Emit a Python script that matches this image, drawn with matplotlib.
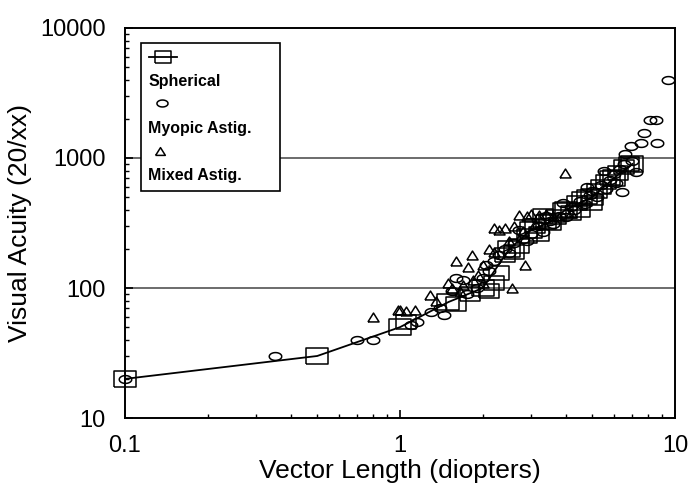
import matplotlib
matplotlib.use("Agg")
from matplotlib import pyplot as plt
from matplotlib.patches import Rectangle
from matplotlib.ticker import LogLocator, NullFormatter, FixedLocator, FixedFormatter
import numpy as np

plt.rcParams['font.family'] = ['Liberation Sans', 'DejaVu Sans']

# -----------------------------------------------------------------------------------------
# Data

# mean curve through the spherical points
line_x = [0.1, 0.5, 1.0, 1.5, 2.0, 2.5, 3.0, 3.5, 4.0, 5.0, 6.0, 7.0]
line_y = [20, 30, 50, 78, 100, 200, 280, 320, 400, 500, 700, 900]

sph_x = [1.05, 1.6, 1.8, 2.1, 2.2, 2.3, 2.6, 2.7, 2.9, 3.1, 3.2, 3.4, 3.7, 3.9,
         4.2, 4.4, 4.5, 4.6, 4.8, 5.0, 5.2, 5.4, 5.6, 5.8, 6.2, 6.5, 6.8, 3.3, 2.4]
sph_y = [55, 75, 90, 95, 110, 130, 190, 210, 250, 300, 260, 320, 350, 400,
         380, 450, 400, 480, 500, 450, 560, 600, 650, 700, 760, 850, 900, 360, 180]

myo_x = [0.1, 0.35, 0.7, 0.8, 1.1, 1.15, 1.3, 1.4, 1.45, 1.55, 1.6, 1.7, 1.75, 1.9,
         2.0, 2.05, 2.1, 2.2, 2.3, 2.4, 2.5, 2.6, 2.7, 2.8, 2.9, 3.0, 3.2, 3.3, 3.4,
         3.5, 3.6, 3.8, 3.9, 4.0, 4.2, 4.3, 4.5, 4.7, 4.8, 4.9, 5.0, 5.2, 5.4, 5.5,
         5.6, 5.8, 6.0, 6.1, 6.3, 6.4, 6.5, 6.6, 6.9, 7.0, 7.2, 7.5, 7.7, 8.1, 8.5,
         8.6, 9.4]
myo_y = [20, 30, 40, 40, 52, 55, 65, 70, 62, 95, 120, 115, 90, 100,
         120, 150, 135, 160, 180, 200, 185, 220, 280, 240, 230, 260, 300, 270, 360,
         330, 310, 360, 450, 350, 420, 400, 470, 440, 600, 520, 560, 500, 620, 800,
         580, 680, 750, 640, 820, 550, 900, 1070, 1230, 950, 780, 1300, 1550, 1960, 1960,
         1300, 3980]

mix_x = [0.8, 0.98, 1.0, 1.05, 1.13, 1.29, 1.35, 1.5, 1.55, 1.6, 1.65, 1.7, 1.77,
         1.83, 1.85, 1.92, 2.0, 2.0, 2.1, 2.2, 2.2, 2.3, 2.4, 2.5, 2.55, 2.6, 2.7,
         2.8, 2.85, 2.9, 3.0, 3.1, 3.2, 3.4, 3.6, 3.8, 3.98, 4.2]
mix_y = [60, 68, 68, 66, 68, 88, 80, 109, 100, 161, 95, 105, 145,
         180, 115, 125, 110, 150, 200, 290, 190, 280, 290, 230, 100, 300, 365,
         275, 150, 360, 370, 310, 365, 370, 360, 350, 770, 380]

# -----------------------------------------------------------------------------------------
# Markers (the original is stretched horizontally)

rect = [(-1.45, -1), (1.45, -1), (1.45, 1), (-1.45, 1), (-1.45, -1)]
_t = np.linspace(0, 2 * np.pi, 40)
ellipse = list(zip(1.6 * np.cos(_t), np.sin(_t)))
tri = [(-1.25, -1), (1.25, -1), (0, 1), (-1.25, -1)]

mk = dict(linestyle='none', markerfacecolor='none', markeredgecolor='black',
          markeredgewidth=1.1)

fig = plt.figure(figsize=(6.89, 4.98), dpi=100)
ax = fig.add_axes([0.1814, 0.1606, 0.7983, 0.7832])

ax.plot(line_x, line_y, color='black', linewidth=1.3, marker=rect, markersize=16,
        markerfacecolor='none', markeredgecolor='black', markeredgewidth=1.1,
        clip_on=False, zorder=3)
ax.plot(sph_x, sph_y, marker=rect, markersize=15, **mk)
ax.plot(myo_x, myo_y, marker=ellipse, markersize=9, clip_on=False, **mk)
ax.plot(mix_x, mix_y, marker=tri, markersize=8, **mk)

ax.set_xscale('log')
ax.set_yscale('log')
ax.set_xlim(0.1, 10)
ax.set_ylim(10, 10000)

ax.xaxis.set_major_locator(FixedLocator([0.1, 1, 10]))
ax.xaxis.set_major_formatter(FixedFormatter(['0.1', '1', '10']))
ax.yaxis.set_major_locator(FixedLocator([10, 100, 1000, 10000]))
ax.yaxis.set_major_formatter(FixedFormatter(['10', '100', '1000', '10000']))
ax.xaxis.set_minor_locator(LogLocator(base=10, subs=range(2, 10)))
ax.yaxis.set_minor_locator(LogLocator(base=10, subs=range(2, 10)))
ax.xaxis.set_minor_formatter(NullFormatter())
ax.yaxis.set_minor_formatter(NullFormatter())

ax.tick_params(which='major', direction='in', length=6, width=1.2, labelsize=17,
               top=False, right=False)
ax.tick_params(which='minor', direction='in', length=3, width=1.0,
               top=False, right=False)
ax.tick_params(axis='y', which='major', pad=14)
ax.tick_params(axis='x', which='major', pad=12)

for y in [100, 1000]:
    ax.axhline(y, color='#444444', linewidth=1.1, zorder=0)
for s in ax.spines.values():
    s.set_linewidth(1.4)

ax.set_xlabel('Vector Length (diopters)', fontsize=19, labelpad=2)
ax.set_ylabel('Visual Acuity (20/xx)', fontsize=19, labelpad=6)

# legend drawn by hand: marker above its label
T = ax.transAxes
ax.add_patch(Rectangle((0.029, 0.582), 0.253, 0.38, transform=T,
                       facecolor='white', edgecolor='black', linewidth=1.2, zorder=5))
ax.plot([0.044, 0.094], [0.926, 0.926], transform=T, color='black', linewidth=1.3,
        zorder=6)
ax.plot([0.069], [0.926], transform=T, marker=rect, markersize=12, zorder=6, **mk)
ax.text(0.042, 0.862, 'Spherical', transform=T, fontsize=11.5, fontweight='bold',
        va='center', ha='left', zorder=6)
ax.plot([0.067], [0.808], transform=T, marker=ellipse, markersize=8, zorder=6, **mk)
ax.text(0.042, 0.742, 'Myopic Astig.', transform=T, fontsize=11.5, fontweight='bold',
        va='center', ha='left', zorder=6)
ax.plot([0.064], [0.684], transform=T, marker=tri, markersize=7, zorder=6, **mk)
ax.text(0.042, 0.623, 'Mixed Astig.', transform=T, fontsize=11.5, fontweight='bold',
        va='center', ha='left', zorder=6)

fig.savefig('out.png', dpi=100)
